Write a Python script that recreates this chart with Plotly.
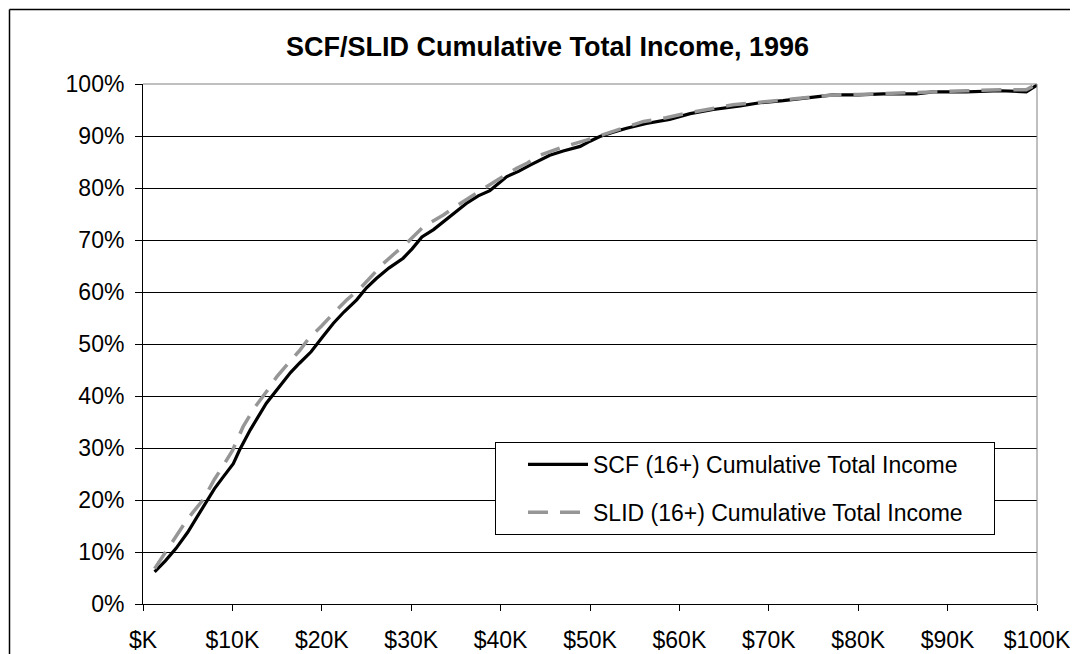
import plotly.graph_objects as go

# Income in $K
scf_income = [1.3, 2.5, 3.7, 5, 6, 7.1, 8, 9, 10.1, 10.8, 12, 13.8, 15.3, 16.5, 17.5, 18.8,
              20.1, 21.3, 22.5, 23.9, 25, 26.1, 27.5, 29.1, 30.1, 31.2, 32.5, 33.6, 35, 36.3,
              37.5, 38.8, 40.7, 42, 43.3, 45.5, 47, 48.9, 50, 51.1, 52.5, 54.1, 56.3, 58.9,
              61.2, 63.8, 66.8, 69, 71.6, 74.5, 77.2, 80, 82.8, 86.5, 88.4, 92.1, 95.9, 98.8, 100]
scf_cum = [6.2, 8.3, 10.7, 13.8, 16.6, 19.7, 22.2, 24.5, 27.0, 29.6, 33.5, 38.6, 41.8, 44.5,
           46.3, 48.5, 51.4, 54.0, 56.2, 58.5, 60.8, 62.6, 64.6, 66.5, 68.3, 70.6, 72.0, 73.5,
           75.3, 77.2, 78.5, 79.5, 82.2, 83.2, 84.4, 86.3, 87.1, 88.0, 89.0, 89.9, 90.7, 91.5,
           92.4, 93.2, 94.3, 95.1, 95.8, 96.4, 96.8, 97.3, 97.9, 97.9, 98.1, 98.1, 98.5, 98.5,
           98.7, 98.5, 99.8]

slid_income = [1.3, 2.5, 3.7, 5, 6.7, 8, 8.9, 10, 11.2, 12.5, 13.8, 15, 16.4, 17.5, 18.6, 20,
               21.3, 22.8, 24.3, 25.5, 26.9, 28.2, 29.5, 31.4, 33.6, 35, 36.6, 38, 39.6, 41.8,
               43, 44.4, 47, 49.6, 51.9, 54, 56, 58.5, 60.8, 63.5, 66, 69, 71.6, 74.5, 77.2,
               80, 82.8, 86.5, 88.4, 92.1, 95.9, 98.8, 100]
slid_cum = [6.8, 9.9, 12.9, 16.4, 20.0, 24.0, 26.4, 29.5, 34.1, 37.8, 40.8, 43.8, 46.6, 48.7,
            51.2, 53.5, 55.9, 58.5, 60.7, 63.0, 65.5, 67.5, 69.4, 72.6, 74.8, 76.5, 78.3, 79.8,
            81.5, 83.8, 84.8, 86.3, 87.9, 89.2, 90.6, 91.7, 92.8, 93.5, 94.4, 95.3, 96.0, 96.5,
            96.9, 97.4, 97.9, 98.0, 98.2, 98.3, 98.5, 98.7, 98.9, 98.9, 100.0]

x_tickvals = [0, 10, 20, 30, 40, 50, 60, 70, 80, 90, 100]
x_ticktext = ["$K", "$10K", "$20K", "$30K", "$40K", "$50K", "$60K", "$70K", "$80K", "$90K", "$100K"]
y_tickvals = [0, 10, 20, 30, 40, 50, 60, 70, 80, 90, 100]
y_ticktext = ["0%", "10%", "20%", "30%", "40%", "50%", "60%", "70%", "80%", "90%", "100%"]

FONT = "Liberation Sans, Arial, sans-serif"
PAD = "\u00a0" * 4  # right padding inside the legend box

fig = go.Figure()
fig.add_trace(go.Scatter(x=scf_income, y=scf_cum, mode="lines",
                         name="SCF (16+) Cumulative Total Income" + PAD, legendgroup="a",
                         line=dict(color="#000000", width=3.2)))
fig.add_trace(go.Scatter(x=slid_income, y=slid_cum, mode="lines",
                         name="SLID (16+) Cumulative Total Income" + PAD, legendgroup="b",
                         line=dict(color="#969696", width=3.5, dash="20px,12px")))

OFF = 8  # page body margin
W, H = 1078 - OFF, 654 - OFF
L, R, T, B = 143 - OFF, 1037 - OFF, 84 - OFF, 604 - OFF
pw, ph = R - L, B - T

def px(xs):
    return (xs - OFF - L) / pw

def py(ys):
    return (B - (ys - OFF)) / ph

fig.update_layout(
    width=W, height=H,
    margin=dict(l=L, r=W - R, t=T, b=H - B, pad=0, autoexpand=False),
    paper_bgcolor="white", plot_bgcolor="white",
    font=dict(family=FONT, size=23, color="#000000"),
    title=dict(text="<b>SCF/SLID Cumulative Total Income, 1996</b>",
               font=dict(family=FONT, size=27, color="#000000"),
               x=(547.5 - OFF) / W, xref="container", xanchor="center",
               y=1 - (47 - OFF) / H, yref="container", yanchor="middle"),
    showlegend=True,
    legend=dict(x=px(495), y=py(442), xanchor="left", yanchor="top",
                bgcolor="white", bordercolor="#000000", borderwidth=1,
                font=dict(family=FONT, size=23, color="#000000"),
                tracegroupgap=15, itemwidth=60, indentation=27),
    xaxis=dict(range=[0, 100], tickvals=x_tickvals, ticktext=x_ticktext,
               showgrid=False, zeroline=False, showline=True, linecolor="#000000",
               linewidth=1, ticks="outside", ticklen=6, tickcolor="#000000",
               ticklabelstandoff=9, automargin=False, fixedrange=True),
    yaxis=dict(range=[0, 100], tickvals=y_tickvals, ticktext=y_ticktext,
               showgrid=True, gridcolor="#000000", gridwidth=1, zeroline=False,
               showline=True, linecolor="#000000", linewidth=1,
               ticks="outside", ticklen=7, tickcolor="#000000",
               ticklabelstandoff=6, automargin=False, fixedrange=True),
    shapes=[
        # top and right plot-area border (gray)
        dict(type="line", xref="paper", yref="paper", x0=0, x1=1, y0=1, y1=1,
             line=dict(color="#808080", width=1)),
        dict(type="line", xref="paper", yref="paper", x0=1, x1=1, y0=0, y1=1,
             line=dict(color="#808080", width=1)),
        # outer chart frame (only top and left edges are inside the picture)
        dict(type="line", xref="paper", yref="paper",
             x0=px(9.5), x1=px(1200), y0=py(9.5), y1=py(9.5),
             line=dict(color="#000000", width=1.5), layer="below"),
        dict(type="line", xref="paper", yref="paper",
             x0=px(9.5), x1=px(9.5), y0=py(9.5), y1=py(800),
             line=dict(color="#000000", width=1.5), layer="below"),
    ],
)

fig.write_html("out.html")
